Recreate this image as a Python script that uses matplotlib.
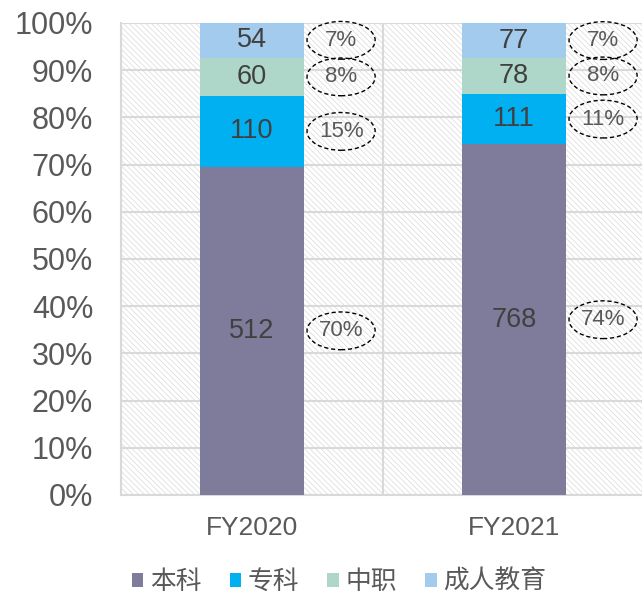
import matplotlib
matplotlib.use("Agg")
import matplotlib.pyplot as plt
import matplotlib.ticker as mticker
from matplotlib.patches import Ellipse, Patch
import numpy as np

plt.rcParams["font.family"] = ["Liberation Sans", "Noto Sans CJK SC", "DejaVu Sans"]
plt.rcParams["hatch.linewidth"] = 0.5

# Data
years = ["FY2020", "FY2021"]
series_names = ["本科", "专科", "中职", "成人教育"]
benke = [512, 768]
zhuanke = [110, 111]
zhongzhi = [60, 78]
chengren = [54, 77]

COLORS = ["#7F7B9B", "#00B0F0", "#AED7CA", "#A3CBEE"]
GRID = "#D9D9D9"
TICK_TEXT = "#595959"
VALUE_TEXT = "#404040"

values = np.array([benke, zhuanke, zhongzhi, chengren], dtype=float)
totals = values.sum(axis=0)
shares = values / totals

fig = plt.figure(figsize=(6.42, 5.96), dpi=100)
ax = fig.add_axes([121 / 642, 101 / 596, 524 / 642, 472 / 596])

# hatched plot background
ax.patch.set_facecolor("white")
ax.patch.set_hatch("\\\\\\\\\\\\")
ax.patch.set_edgecolor("#D9D9D9")
ax.patch.set_linewidth(0)

x = np.arange(len(years))
bar_w = 0.4
bottom = np.zeros(len(years))
for i, name in enumerate(series_names):
    ax.bar(x, shares[i], bar_w, bottom=bottom, color=COLORS[i], label=name, zorder=3)
    for j in range(len(years)):
        yc = bottom[j] + shares[i][j] / 2
        ax.text(x[j], yc, f"{int(values[i][j])}", ha="center", va="center",
                fontsize=19.5, color=VALUE_TEXT, zorder=4)
        # percentage in dashed ellipse next to bar
        ex = x[j] + 0.34
        ax.add_patch(Ellipse((ex, yc), 0.26, 0.08, fill=False, edgecolor="black",
                             linewidth=1.0, linestyle=(0, (3, 2)), zorder=4, clip_on=False))
        ax.text(ex, yc, f"{shares[i][j] * 100:.0f}%", ha="center", va="center",
                fontsize=16, color=TICK_TEXT, zorder=5)
    bottom += shares[i]

ax.set_xlim(-0.5, 1.5)
ax.set_ylim(0, 1)
ax.set_yticks(np.arange(0, 1.01, 0.1))
ax.yaxis.set_major_formatter(mticker.FuncFormatter(lambda v, p: f"{v * 100:.0f}%"))
ax.set_xticks(x)
ax.set_xticklabels(years)
ax.set_xticks([-0.5, 0.5, 1.5], minor=True)

ax.tick_params(axis="y", length=0, pad=20, labelsize=22, labelcolor=TICK_TEXT)
ax.tick_params(axis="x", which="major", length=0, pad=15, labelsize=19, labelcolor=TICK_TEXT)
ax.tick_params(axis="x", which="minor", length=0)

ax.grid(True, axis="y", color=GRID, linewidth=1.5, zorder=1)
ax.grid(True, axis="x", which="minor", color=GRID, linewidth=1.5, zorder=1)
ax.set_axisbelow(True)

for side in ["top", "right"]:
    ax.spines[side].set_visible(False)
for side in ["left", "bottom"]:
    ax.spines[side].set_color(GRID)
    ax.spines[side].set_linewidth(1.5)

handles = [Patch(facecolor=c, edgecolor="none") for c in COLORS]
fig.legend(handles, series_names, loc="center", bbox_to_anchor=(339 / 642, 14 / 596),
           ncol=4, frameon=False, fontsize=18.5, labelcolor=TICK_TEXT,
           handlelength=0.45, handleheight=0.45, handletextpad=0.25, columnspacing=1.1)

fig.savefig("out.png", dpi=100)
